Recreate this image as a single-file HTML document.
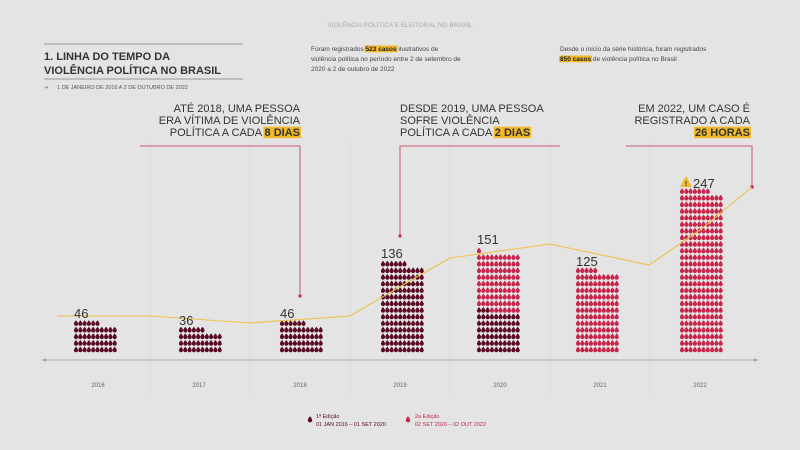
<!DOCTYPE html>
<html><head><meta charset="utf-8"><style>
body{margin:0;background:#e4e4e4;font-family:"Liberation Sans",sans-serif;}
svg{display:block}
</style></head><body>
<svg id="s" width="800" height="450" xmlns="http://www.w3.org/2000/svg" font-family="Liberation Sans, sans-serif">
<rect width="800" height="450" fill="#e4e4e4"/>
<g id="hls"></g>
<text x="400" y="27" font-size="6.5" fill="#aaa" text-anchor="middle">VIOLÊNCIA POLÍTICA E ELEITORAL NO BRASIL</text>
<line x1="44" y1="44" x2="243" y2="44" stroke="#999" stroke-width="1"/>
<text x="44" y="60" font-size="11" font-weight="bold" fill="#333">1. LINHA DO TEMPO DA</text>
<text x="44" y="74" font-size="11" font-weight="bold" fill="#333">VIOLÊNCIA POLÍTICA NO BRASIL</text>
<line x1="44" y1="79" x2="243" y2="79" stroke="#999" stroke-width="1"/>
<text x="44" y="89" font-size="5.5" fill="#888">➔</text>
<text x="57" y="89" font-size="5.5" fill="#555">1 DE JANEIRO DE 2016 A 2 DE OUTUBRO DE 2022</text>
<text x="311" y="51" font-size="6.5" fill="#444">Foram registrados <tspan class="hl" font-weight="bold" fill="#222">523 casos</tspan> ilustrativos de</text>
<text x="311" y="61" font-size="6.5" fill="#444">violência política no período entre 2 de setembro de</text>
<text x="311" y="71" font-size="6.5" fill="#444">2020 a 2 de outubro de 2022</text>
<text x="560" y="51" font-size="6.5" fill="#444">Desde o início da série histórica, foram registrados</text>
<text x="560" y="61" font-size="6.5" fill="#444"><tspan class="hl" font-weight="bold" fill="#222">850 casos</tspan> de violência política no Brasil</text>
<g stroke="#d6d6d6" stroke-width="0.7">
<line x1="150" y1="140" x2="150" y2="395"/><line x1="250" y1="140" x2="250" y2="395"/><line x1="350" y1="140" x2="350" y2="395"/><line x1="450" y1="140" x2="450" y2="395"/><line x1="550" y1="140" x2="550" y2="395"/><line x1="650" y1="140" x2="650" y2="395"/>
</g>
<g font-size="11" fill="#333" text-anchor="end">
<text x="300" y="112">ATÉ 2018, UMA PESSOA</text>
<text x="300" y="124">ERA VÍTIMA DE VIOLÊNCIA</text>
<text x="300" y="136">POLÍTICA A CADA <tspan class="hl" font-weight="bold">8 DIAS</tspan></text>
</g>
<g font-size="11" fill="#333">
<text x="400" y="112">DESDE 2019, UMA PESSOA</text>
<text x="400" y="124">SOFRE VIOLÊNCIA</text>
<text x="400" y="136">POLÍTICA A CADA <tspan class="hl" font-weight="bold">2 DIAS</tspan></text>
</g>
<g font-size="11" fill="#333" text-anchor="end">
<text x="750" y="112">EM 2022, UM CASO É</text>
<text x="750" y="124">REGISTRADO A CADA</text>
<text x="750" y="136"><tspan class="hl" font-weight="bold">26 HORAS</tspan></text>
</g>
<g stroke="#c0304c" stroke-width="0.8" fill="none">
<polyline points="140,146 300,146 300,296"/>
<polyline points="560,146 400,146 400,236"/>
<polyline points="626,146 752,146 752,187"/>
</g>
<g fill="#c0304c"><circle cx="300" cy="296" r="1.6"/><circle cx="400" cy="236" r="1.6"/><circle cx="752" cy="187" r="1.8"/></g>
<line x1="42" y1="360" x2="758" y2="360" stroke="#999" stroke-width="0.8"/>
<path d="M42 360 l4 -1.5 v3z M758 360 l-4 -1.5 v3z" fill="#999"/>
<g id="drops"></g>
<polyline points="57,316 150,316 250,323 350,316 420,275 450,258 550,244 649,265 700,230 752,187" fill="none" stroke="#ecc14a" stroke-width="1.1"/>
<g font-size="13" fill="#333">
<text x="74" y="318">46</text><text x="179" y="325">36</text><text x="280" y="318">46</text>
<text x="381" y="258">136</text><text x="477" y="244">151</text><text x="576" y="266">125</text><text x="693" y="188">247</text>
</g>
<path d="M686 176 L692 187 L680 187Z" fill="#f2b92b"/><text x="686" y="186" font-size="7" font-weight="bold" fill="#333" text-anchor="middle">!</text>
<g font-size="6" fill="#666" text-anchor="middle">
<text x="98" y="387">2016</text><text x="199" y="387">2017</text><text x="300" y="387">2018</text><text x="400" y="387">2019</text><text x="500" y="387">2020</text><text x="600" y="387">2021</text><text x="700" y="387">2022</text>
</g>
<path d="M310 416 q-2.2 3 -2.2 4.2 a2.2 2.2 0 0 0 4.4 0 q0 -1.2 -2.2 -4.2z" fill="#5a0a22"/>
<text x="316" y="418" font-size="5.5" fill="#5a0a22">1ª Edição</text>
<text x="316" y="426" font-size="5.5" fill="#5a0a22">01 JAN 2016 – 01 SET 2020</text>
<path d="M408 416 q-2.2 3 -2.2 4.2 a2.2 2.2 0 0 0 4.4 0 q0 -1.2 -2.2 -4.2z" fill="#c8254a"/>
<text x="415" y="418" font-size="5.5" fill="#c8254a">2a Edição</text>
<text x="415" y="426" font-size="5.5" fill="#c8254a">02 SET 2020 – 02 OUT 2022</text>
</svg>
<script>
var g=document.getElementById('drops'),h='';
var bars=[[74,46,46],[179,36,36],[280,46,46],[381,136,136],[477,151,63],[576,125,0],[680,247,0]];
bars.forEach(function(b){for(var i=0;i<b[1];i++){var c=i%10,r=Math.floor(i/10);var x=b[0]+2+c*4.3,y=350-r*6.6;var col=i<b[2]?'#5a0a22':'#c8254a';
h+='<path d="M'+x.toFixed(1)+' '+(y-3.4).toFixed(1)+' q-2.1 2.5 -2.1 3.6 a2.1 2.1 0 0 0 4.2 0 q0 -1.1 -2.1 -3.6z" fill="'+col+'"/>';}});
g.innerHTML=h;
var hl='';
document.querySelectorAll('tspan.hl').forEach(function(t){
 var p=t.getStartPositionOfChar(0),w=t.getComputedTextLength();
 var fs=parseFloat(t.parentNode.getAttribute('font-size')||t.parentNode.parentNode.getAttribute('font-size'));
 hl+='<rect x="'+(p.x-1)+'" y="'+(p.y-fs*0.85)+'" width="'+(w+2)+'" height="'+(fs*1.05)+'" fill="#f2b92b"/>';
});
document.getElementById('hls').innerHTML=hl;
</script>
</body></html>
